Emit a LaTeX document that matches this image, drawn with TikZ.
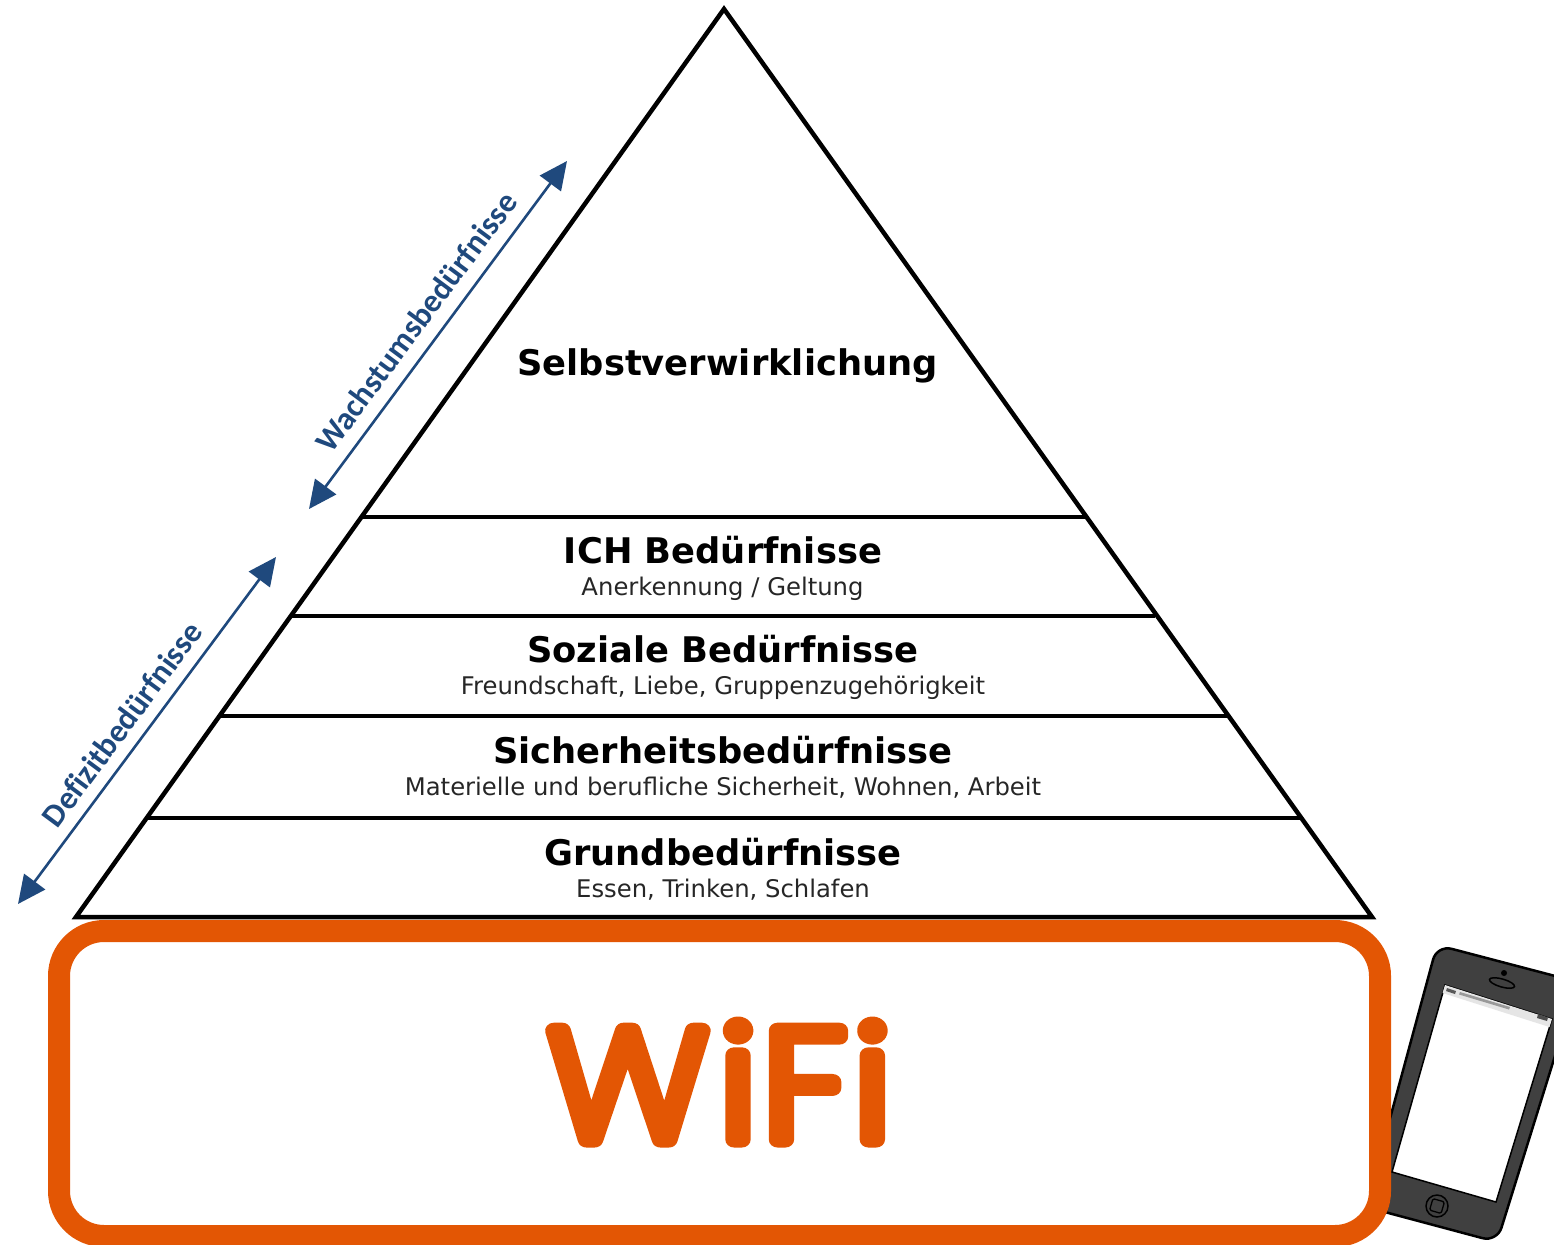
\documentclass[tikz,border=0pt]{standalone}
\usepackage{fontspec}
\setmainfont{DejaVu Sans}
\newfontfamily\carl[Ligatures=NoCommon]{Carlito}
\newfontfamily\wifont{Poppins ExtraLight}
\usetikzlibrary{arrows.meta}
\definecolor{wifiorange}{HTML}{E35604}
\definecolor{arrowblue}{HTML}{1F497D}
\definecolor{phonegrey}{HTML}{404040}
\tikzset{
  tierline/.style={line width=4.5pt,black},
  headtext/.style={font=\fontsize{35.3}{40}\selectfont\bfseries,anchor=center,inner sep=0pt,text=black},
  subtext/.style={font=\fontsize{24.3}{30}\selectfont,anchor=center,inner sep=0pt,text=black!85},
  sidearrow/.style={line width=2.6pt,arrowblue,{Triangle[length=28pt,width=26pt]}-{Triangle[length=28pt,width=26pt]}},
  sidetext/.style={font=\carl\fontsize{32.5}{36}\selectfont\bfseries,text=arrowblue,inner sep=0pt,rotate=53.4}
}
\begin{document}
\begin{tikzpicture}[x=1pt,y=-1pt]
\useasboundingbox (0,0) rectangle (1554,1244);
\clip (0,0) rectangle (1554,1244);
% phone
\draw[fill=phonegrey,draw=black,line width=2.5pt,rounded corners=15pt] (1437,945) -- (1578,982) -- (1497,1242) -- (1366,1207) -- cycle;
\fill[white,draw=black,line width=1.5pt] (1445,985) -- (1552,1019) -- (1496,1202) -- (1392,1172) -- cycle;
\fill[black!10] (1445,985) -- (1552,1019) -- (1549.5,1027) -- (1442.5,993) -- cycle;
\fill[black!65] (1447,988) -- (1456,991) -- (1455,994) -- (1446,991) -- cycle;
\fill[black!40] (1460,992) -- (1510,1007) -- (1509,1009.5) -- (1459,994.5) -- cycle;
\fill[black!70] (1538,1014) -- (1548,1017.5) -- (1547,1021) -- (1537,1018) -- cycle;
\draw[draw=black,line width=1.5pt,rotate around={-16:(1502,983)}] (1502,983) ellipse [x radius=13,y radius=4];
\fill[black] (1504,973) circle [radius=3];
\draw[black,line width=1.5pt] (1437,1206) circle [radius=11];
\draw[black,line width=1.3pt,rounded corners=1.5pt,rotate around={-16:(1437,1206)}] (1431,1200) rectangle (1443,1212);
% wifi box
\node[draw=wifiorange,fill=white,line width=22pt,rounded corners=45pt,minimum width=1321pt,minimum height=305pt,inner sep=0pt] (wifibox) at (719.5,1083.5) {};
\node[inner sep=0pt,text=wifiorange,font=\wifont\fontsize{155}{160}\selectfont] (wifi) at (719.5,1082) {\scalebox{1.1}[1]{\special{pdf:code 2 Tr 1 j 1 J 16 w}W\kern12pt i\kern7pt F\kern8pt i\special{pdf:code 0 Tr}}};
% pyramid
\coordinate (apex) at (724,9);
\coordinate (bl) at (76,917);
\coordinate (br) at (1372,917);
\draw[tierline,line join=miter] (apex) -- (br) -- (bl) -- cycle;
\coordinate (a1) at (362,517); \coordinate (b1) at (1085,517);
\coordinate (a2) at (292,616); \coordinate (b2) at (1155,616);
\coordinate (a3) at (221,716); \coordinate (b3) at (1227,716);
\coordinate (a4) at (148,818); \coordinate (b4) at (1300,818);
\draw[tierline] (a1) -- (b1);
\draw[tierline] (a2) -- (b2);
\draw[tierline] (a3) -- (b3);
\draw[tierline] (a4) -- (b4);
% tier text
\node[headtext] (t0) at (727.5,366) {Selbstverwirklichung};
\node[headtext] (t1) at (723,550.5) {ICH Bedürfnisse};
\node[subtext] (s1) at (722.5,589) {Anerkennung / Geltung};
\node[headtext] (t2) at (723,649.5) {Soziale Bedürfnisse};
\node[subtext] (s2) at (723,688) {Freundschaft, Liebe, Gruppenzugehörigkeit};
\node[headtext] (t3) at (723,750.5) {Sicherheitsbedürfnisse};
\node[subtext] (s3) at (723,788) {Materielle und berufliche Sicherheit, Wohnen, Arbeit};
\node[headtext] (t4) at (723,852.5) {Grundbedürfnisse};
\node[subtext] (s4) at (723,890) {Essen, Trinken, Schlafen};
% side arrows
\coordinate (wa) at (309,509); \coordinate (wb) at (567,161);
\coordinate (da) at (18,904); \coordinate (db) at (276,557);
\draw[sidearrow] (wa) -- (wb);
\draw[sidearrow] (da) -- (db);
\node[sidetext] (wlab) at (416,322) {Wachstumsbedürfnisse};
\node[sidetext] (dlab) at (122,724) {Defizitbedürfnisse};
\end{tikzpicture}
\end{document}
